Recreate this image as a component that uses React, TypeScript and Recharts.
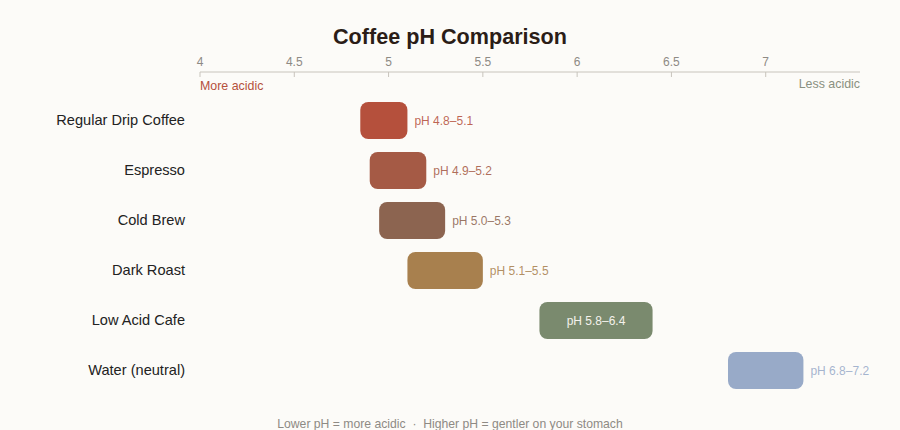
import { BarChart, Bar, XAxis, YAxis, Cell, LabelList } from "recharts";

const drinks = [
  "Regular Drip Coffee",
  "Espresso",
  "Cold Brew",
  "Dark Roast",
  "Low Acid Cafe",
  "Water (neutral)",
];
const phLow = [4.85, 4.9, 4.95, 5.1, 5.8, 6.8];
const phHigh = [5.1, 5.2, 5.3, 5.5, 6.4, 7.2];
const barColors = ["#b5503c", "#a55a45", "#8c6450", "#a8804e", "#7a8a6e", "#98aac8"];
const phTicks = [4, 4.5, 5, 5.5, 6, 6.5, 7];

const data = drinks.map((name, i) => ({
  name,
  range: [phLow[i], phHigh[i]],
  color: barColors[i],
}));

const FONT = '"Liberation Sans", Arial, sans-serif';

function TopTick(props: any) {
  const { x, y, payload } = props;
  return (
    <g>
      <line x1={x} y1={y} x2={x} y2={y + 5} stroke="#c8c4bc" />
      <text x={x} y={y - 6} textAnchor="middle" fontSize={12} fill="#8e8a84" fontFamily={FONT}>
        {payload.value}
      </text>
    </g>
  );
}

function RangeLabel(props: any) {
  const { x, y, width, height, index } = props;
  const d = data[index];
  const text = `pH ${d.range[0].toFixed(1)}–${d.range[1].toFixed(1)}`;
  const inside = width > 90;
  return (
    <text
      x={inside ? x + width / 2 : x + width + 7}
      y={y + height / 2}
      dy="0.35em"
      textAnchor={inside ? "middle" : "start"}
      fontSize={12}
      fontFamily={FONT}
      fill={inside ? "#f4f2ec" : d.color}
      fillOpacity={inside ? 1 : 0.88}
    >
      {text}
    </text>
  );
}

export default function App() {
  return (
    <div
      style={{
        position: "relative",
        width: 900,
        height: 430,
        background: "#fcfbf8",
        fontFamily: FONT,
        overflow: "hidden",
      }}
    >
      <style>{"body{margin:0}"}</style>
      <div
        style={{
          position: "absolute",
          top: 24,
          left: 0,
          width: 900,
          textAlign: "center",
          fontSize: 21.6,
          fontWeight: "bold",
          color: "#2b1d17",
        }}
      >
        Coffee pH Comparison
      </div>
      <div style={{ position: "absolute", top: 79, left: 200, fontSize: 12.4, color: "#b5503c" }}>
        More acidic
      </div>
      <div style={{ position: "absolute", top: 77, left: 760, width: 100, textAlign: "right", fontSize: 12.4, color: "#8a9080" }}>
        Less acidic
      </div>
      <BarChart
        width={900}
        height={430}
        data={data}
        layout="vertical"
        margin={{ top: 52, right: 40, bottom: 35, left: 0 }}
        barSize={37}
        style={{ position: "absolute", top: 0, left: 0 }}
      >
        <XAxis
          type="number"
          orientation="top"
          domain={[4, 7.5]}
          ticks={phTicks}
          height={20}
          tickLine={false}
          tickSize={0}
          tickMargin={0}
          tick={<TopTick />}
          axisLine={{ stroke: "#c8c4bc" }}
          allowDataOverflow
        />
        <YAxis
          type="category"
          dataKey="name"
          width={200}
          axisLine={false}
          tickLine={false}
          tickSize={0}
          tickMargin={15}
          padding={{ top: 23, bottom: 0 }}
          tick={{ fontSize: 14.6, fill: "#222", fontFamily: FONT }}
        />
        <Bar dataKey="range" radius={8} isAnimationActive={false}>
          {data.map((d) => (
            <Cell key={d.name} fill={d.color} />
          ))}
          <LabelList dataKey="range" content={<RangeLabel />} />
        </Bar>
      </BarChart>
      <div
        style={{
          position: "absolute",
          top: 417,
          left: 0,
          width: 900,
          textAlign: "center",
          fontSize: 12.2,
          color: "#8e8a84",
        }}
      >
        Lower pH = more acidic &nbsp;·&nbsp; Higher pH = gentler on your stomach
      </div>
    </div>
  );
}
